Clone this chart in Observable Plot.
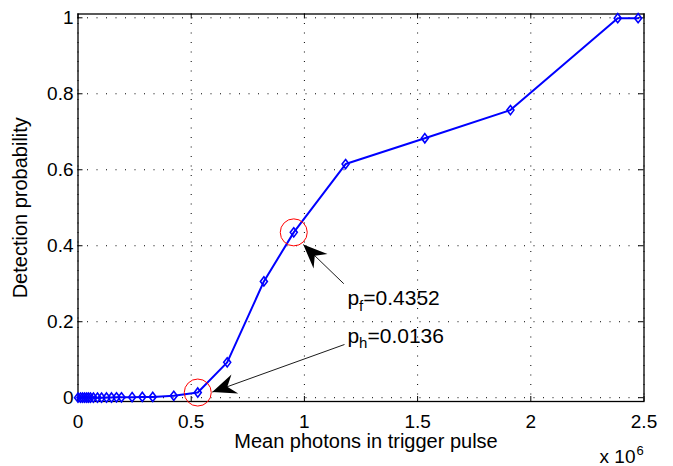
<!DOCTYPE html>
<html><head><meta charset="utf-8">
<script src="https://cdn.jsdelivr.net/npm/d3@7"></script>
<script src="https://cdn.jsdelivr.net/npm/@observablehq/plot@0.6"></script>
<style>body{margin:0;background:#fff;} svg{display:block;background:#fff}</style>
</head><body><div id="chart"></div>
<script>
// Data (x in units of 10^6 photons)
const photonsMillions = [0, 0.011, 0.020, 0.029, 0.038, 0.046, 0.055, 0.068, 0.086, 0.104, 0.126, 0.148, 0.170, 0.192, 0.239, 0.284, 0.330, 0.423, 0.529, 0.659, 0.821, 0.953, 1.182, 1.532, 1.910, 2.384, 2.474];
const detectionProb   = [0, 0, 0, 0, 0, 0, 0, 0, 0, 0, 0.0005, 0.0005, 0.001, 0.001, 0.0015, 0.002, 0.002, 0.005, 0.0136, 0.093, 0.306, 0.4352, 0.615, 0.683, 0.757, 0.999, 0.999];
const xTicks = [0, 0.5, 1, 1.5, 2, 2.5];
const yTicks = [0, 0.2, 0.4, 0.6, 0.8, 1];
const xLabel = "Mean photons in trigger pulse";
const yLabel = "Detection probability";
const xExponentBase = "x 10";
const xExponent = "6";
// Annotations
const annoLabels = ["p_f=0.4352", "p_h=0.0136"];
const annoTextX = [1.19, 1.19];
const annoTextY = [0.2616, 0.1624];
const circleX = [0.953, 0.529];
const circleY = [0.4352, 0.0136];
const arrowTailX = [1.174, 1.177];
const arrowTailY = [0.300, 0.140];
const arrowTipX = [0.995, 0.593];
const arrowTipY = [0.403, 0.0147];

const points = photonsMillions.map((x, i) => ({x, y: detectionProb[i]}));
const annos = annoLabels.map((t, i) => ({t, x: annoTextX[i], y: annoTextY[i]}));
const circles = circleX.map((x, i) => ({x, y: circleY[i]}));
const arrows = arrowTailX.map((x, i) => ({x1: x, y1: arrowTailY[i], x2: arrowTipX[i], y2: arrowTipY[i]}));

const W = 673, H = 466, mt = 13.5, mb = 65, ml = 77.5, mr = 29.5;
const fh = H - mt - mb, fw = W - ml - mr;
const font = "Liberation Sans, Arial, Helvetica, sans-serif";

const diamond = {draw(ctx) { ctx.moveTo(0, -4.6); ctx.lineTo(3.5, 0); ctx.lineTo(0, 4.6); ctx.lineTo(-3.5, 0); ctx.closePath(); }};
const arrowHead = {draw(ctx) { ctx.moveTo(0, 0); ctx.lineTo(10, 24); ctx.lineTo(0, 16); ctx.lineTo(-10, 24); ctx.closePath(); }};

function build(angles) {
  const fmt = d => String(d);
  return Plot.plot({
    width: W, height: H,
    marginTop: mt, marginBottom: mb, marginLeft: ml, marginRight: mr,
    style: {fontFamily: font, fontSize: "19px", color: "black", background: "white"},
    x: {domain: [0, 2.5]},
    y: {domain: [-0.01, 1.01]},
    marks: [
      Plot.gridX(xTicks, {stroke: "black", strokeOpacity: 1, strokeWidth: 1, strokeDasharray: "1,8.5"}),
      Plot.gridY(yTicks, {stroke: "black", strokeOpacity: 1, strokeWidth: 1, strokeDasharray: "1,8.5"}),
      Plot.tickX(xTicks, {x: d => d, stroke: "black", insetTop: fh - 5}),
      Plot.tickX(xTicks, {x: d => d, stroke: "black", insetBottom: fh - 5}),
      Plot.tickY(yTicks, {y: d => d, stroke: "black", insetRight: fw - 5}),
      Plot.tickY(yTicks, {y: d => d, stroke: "black", insetLeft: fw - 5}),
      Plot.axisX({ticks: xTicks, tickSize: 0, tickPadding: 13, tickFormat: fmt, fontSize: 19, label: null}),
      Plot.axisY({ticks: yTicks, tickSize: 0, tickPadding: 4.5, tickFormat: fmt, fontSize: 19, label: null}),
      Plot.frame({stroke: "black", strokeWidth: 1.3}),
      Plot.line(points, {x: "x", y: "y", stroke: "#0000ff", strokeWidth: 2}),
      Plot.dot(points, {x: "x", y: "y", symbol: diamond, stroke: "#0000ff", fill: "none", strokeWidth: 1.6}),
      Plot.dot(circles, {x: "x", y: "y", r: 13.5, stroke: "#ff0000", fill: "none", strokeWidth: 1}),
      Plot.link(arrows, {x1: "x1", y1: "y1", x2: "x2", y2: "y2", stroke: "black", strokeWidth: 0.9}),
      Plot.dot(arrows, {x: "x2", y: "y2", symbol: arrowHead, fill: "black", stroke: "none", rotate: (d, i) => angles[i]}),
      Plot.text(annos, {x: "x", y: "y", text: "t", textAnchor: "start", lineAnchor: "middle", fontSize: 21, fill: "black"}),
      Plot.text([xLabel], {frameAnchor: "bottom", text: d => d, textAnchor: "middle", lineAnchor: "middle", dx: 5, dy: 40.5, fontSize: 20, fill: "black"}),
      Plot.text([yLabel], {frameAnchor: "left", text: d => d, textAnchor: "middle", lineAnchor: "middle", rotate: -90, dx: -57, fontSize: 20, fill: "black"}),
      Plot.text([xExponentBase], {frameAnchor: "bottom-right", text: d => d, textAnchor: "end", lineAnchor: "middle", dx: -8.5, dy: 55.5, fontSize: 19, fill: "black"}),
      Plot.text([xExponent], {frameAnchor: "bottom-right", text: d => d, textAnchor: "start", lineAnchor: "middle", dx: -7.5, dy: 49.3, fontSize: 13, fill: "black"})
    ]
  });
}

const p0 = build([0, 0]);
const sx = p0.scale("x"), sy = p0.scale("y");
const angles = arrows.map(a => {
  const vx = sx.apply(a.x2) - sx.apply(a.x1);
  const vy = sy.apply(a.y2) - sy.apply(a.y1);
  return Math.atan2(vx, -vy) * 180 / Math.PI;
});
const chart = build(angles);
d3.select(chart).selectAll("text").each(function() {
  const s = this.textContent;
  const m = s.match(/^(.)_(.)(.*)$/);
  if (!m) return;
  const t = d3.select(this);
  t.text(null);
  t.append("tspan").text(m[1]);
  t.append("tspan").attr("font-size", 15).attr("dy", 5.5).text(m[2]);
  t.append("tspan").attr("dy", -5.5).text(m[3]);
});
document.getElementById("chart").appendChild(chart);
</script>
</body></html>
